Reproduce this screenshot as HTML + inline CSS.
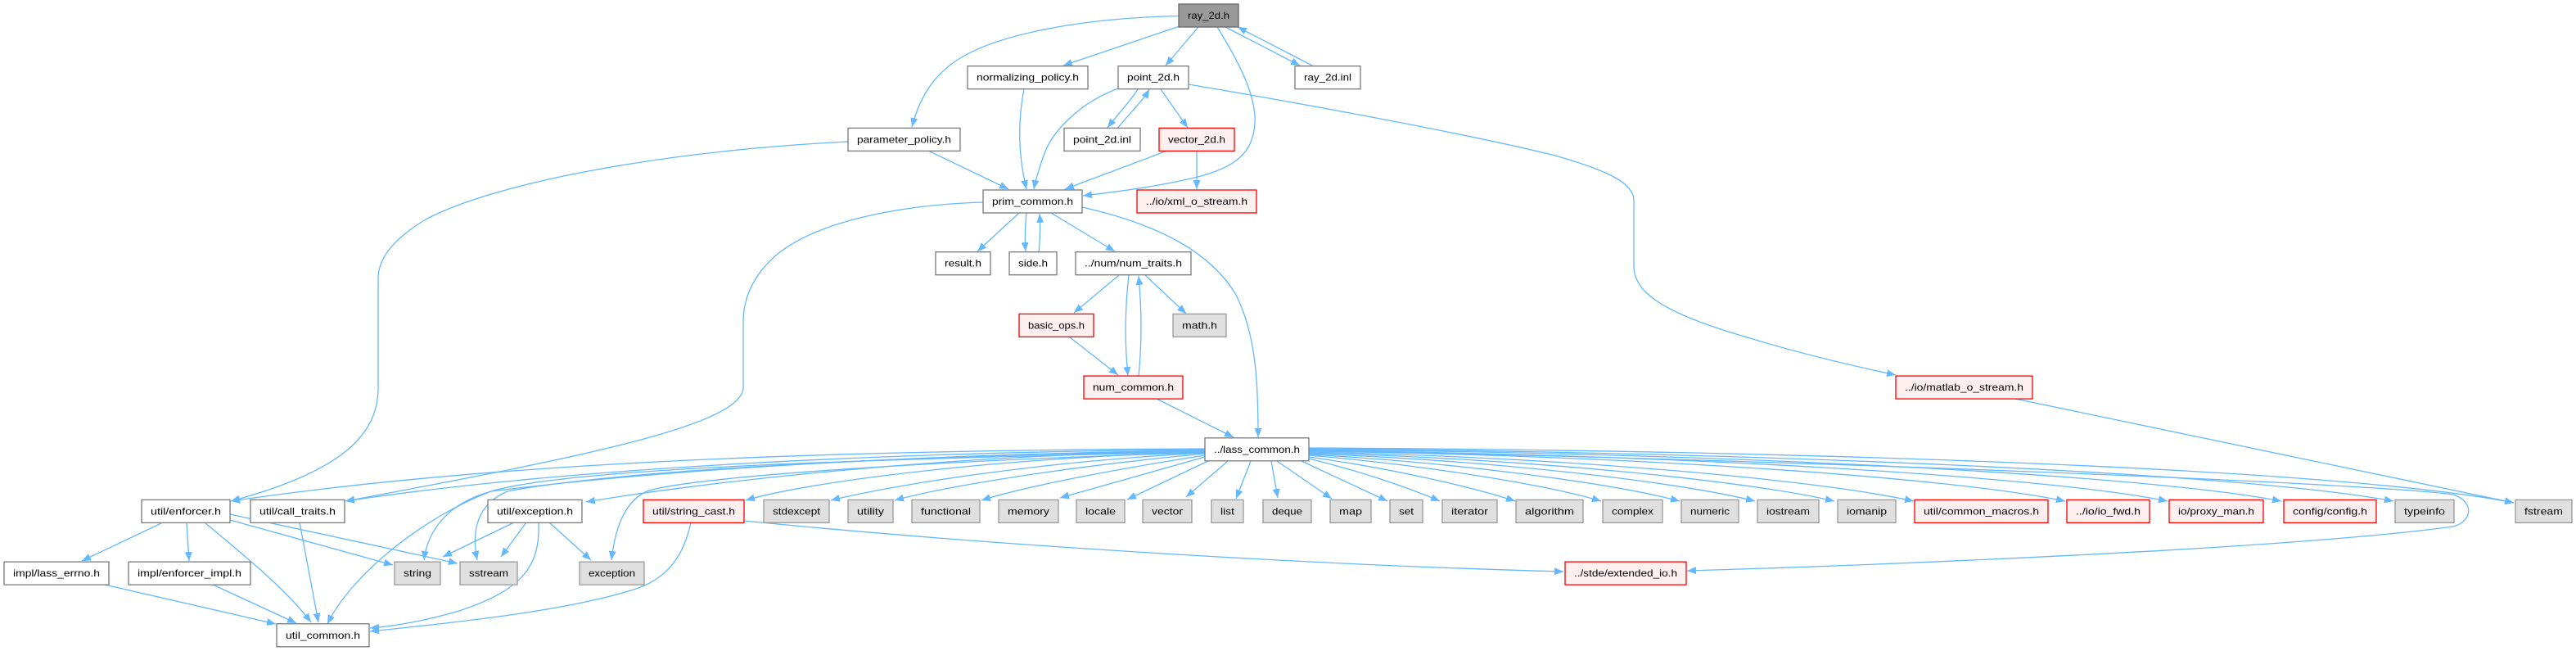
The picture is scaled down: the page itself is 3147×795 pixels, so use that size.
<!DOCTYPE html>
<html><head><meta charset="utf-8"><style>
html,body{margin:0;padding:0;background:#fff;}
svg{display:block;}
.e{fill:none;stroke:#63b8ff;stroke-width:1.3;}
.n{fill:#fff;stroke:#7a7a7a;stroke-width:1.3;}
.g{fill:#e0e0e0;stroke:#999;stroke-width:1.3;}
.r{fill:#fff0f0;stroke:#ff0000;stroke-width:1.3;}
.root{fill:#999;stroke:#666;stroke-width:1.3;}
text{font-family:"Liberation Sans",sans-serif;font-size:12px;fill:#000;text-anchor:middle;}
</style></head><body>
<svg width="3147" height="795" viewBox="0 0 3147 795" xmlns="http://www.w3.org/2000/svg">
<defs><marker id="a" markerWidth="12" markerHeight="9" refX="11" refY="4.5" orient="auto" markerUnits="userSpaceOnUse"><path d="M0,0 L11,4.5 L0,9 z" fill="#63b8ff"/></marker></defs>
<g class="edges">
<path class="e" marker-end="url(#a)" d="M1440,19.5 C1330,22 1210,40 1160,80 C1135,100 1122,125 1114,155"/>
<path class="e" marker-end="url(#a)" d="M1441,32 L1299,80"/>
<path class="e" marker-end="url(#a)" d="M1464,33 L1424,80"/>
<path class="e" marker-end="url(#a)" d="M1487,33 C1510,70 1535,115 1533,150 C1531,190 1505,208 1446,220 C1400,230 1350,236 1323,239"/>
<path class="e" marker-end="url(#a)" d="M1497,33 L1588,80"/>
<path class="e" marker-end="url(#a)" d="M1603,80 L1512,33"/>
<path class="e" marker-end="url(#a)" d="M1251,109 C1243,150 1244,190 1254,231"/>
<path class="e" marker-end="url(#a)" d="M1366,108 C1320,125 1285,160 1275,190 C1268,210 1265,220 1263,231"/>
<path class="e" marker-end="url(#a)" d="M1390,109 C1380,125 1365,140 1353,156"/>
<path class="e" marker-end="url(#a)" d="M1365,157 C1378,140 1395,125 1404,109"/>
<path class="e" marker-end="url(#a)" d="M1418,109 L1451,156"/>
<path class="e" marker-end="url(#a)" d="M1452,103 C1600,128 1800,165 1900,190 C1970,210 1996,225 1996,245 L1996,325 C1996,360 2040,385 2138,413 C2200,432 2260,446 2316,458"/>
<path class="e" marker-end="url(#a)" d="M1134,184 L1232,231"/>
<path class="e" marker-end="url(#a)" d="M1036,173 C800,185 600,225 520,268 C475,295 462,320 462,340 L462,473 C462,530 420,575 282,612"/>
<path class="e" marker-end="url(#a)" d="M1426,184 L1301,231"/>
<path class="e" marker-end="url(#a)" d="M1462,184 L1462,231"/>
<path class="e" marker-end="url(#a)" d="M1245,260 L1194,307"/>
<path class="e" marker-end="url(#a)" d="M1254,260 C1252,280 1252,295 1253,307"/>
<path class="e" marker-end="url(#a)" d="M1269,308 C1271,290 1271,275 1270,261"/>
<path class="e" marker-end="url(#a)" d="M1284,260 L1362,307"/>
<path class="e" marker-end="url(#a)" d="M1322,253 C1420,275 1480,310 1510,360 C1535,410 1537,470 1537,534"/>
<path class="e" marker-end="url(#a)" d="M1201,247 C1100,250 1000,270 950,310 C915,340 908,370 908,393 L908,473 C908,520 700,560 422,612"/>
<path class="e" marker-end="url(#a)" d="M1367,336 L1312,382"/>
<path class="e" marker-end="url(#a)" d="M1379,336 C1374,380 1374,420 1378,459"/>
<path class="e" marker-end="url(#a)" d="M1391,459 C1395,420 1395,380 1391,337"/>
<path class="e" marker-end="url(#a)" d="M1399,336 L1449,383"/>
<path class="e" marker-end="url(#a)" d="M1307,412 L1366,458"/>
<path class="e" marker-end="url(#a)" d="M1413,487 L1507,534"/>
<path class="e" marker-end="url(#a)" d="M2462,487 L3071,614"/>
<!-- lass_common to right -->
<path class="e" marker-end="url(#a)" d="M1553,563 L1561,608"/>
<path class="e" marker-end="url(#a)" d="M1560,563 L1627,609"/>
<path class="e" marker-end="url(#a)" d="M1590,563 L1695,612"/>
<path class="e" marker-end="url(#a)" d="M1599,560 C1660,575 1720,595 1759,612"/>
<path class="e" marker-end="url(#a)" d="M1599,558 C1700,572 1800,595 1851,612"/>
<path class="e" marker-end="url(#a)" d="M1599,556 C1740,568 1890,592 1956,612"/>
<path class="e" marker-end="url(#a)" d="M1599,555 C1780,565 1970,590 2052,612"/>
<path class="e" marker-end="url(#a)" d="M1599,554 C1820,562 2050,588 2144,612"/>
<path class="e" marker-end="url(#a)" d="M1599,553 C1860,560 2130,586 2241,612"/>
<path class="e" marker-end="url(#a)" d="M1599,552 C1900,558 2210,584 2338,612"/>
<path class="e" marker-end="url(#a)" d="M1599,551 C1980,556 2380,582 2523,612"/>
<path class="e" marker-end="url(#a)" d="M1599,550 C2030,555 2490,580 2648,612"/>
<path class="e" marker-end="url(#a)" d="M1599,549 C2080,553 2610,578 2787,612"/>
<path class="e" marker-end="url(#a)" d="M1599,548 C2130,552 2730,576 2924,612"/>
<path class="e" marker-end="url(#a)" d="M1599,547 C2200,550 2860,572 3071,614"/>
<path class="e" marker-end="url(#a)" d="M1599,550 C2200,562 2900,590 2997,604 C3022,612 3022,636 2997,643 C2800,670 2300,690 2061,697"/>
<!-- lass_common to left -->
<path class="e" marker-end="url(#a)" d="M1528,563 L1510,609"/>
<path class="e" marker-end="url(#a)" d="M1500,563 L1449,607"/>
<path class="e" marker-end="url(#a)" d="M1478,562 L1377,610"/>
<path class="e" marker-end="url(#a)" d="M1472,558 L1295,608"/>
<path class="e" marker-end="url(#a)" d="M1472,556 C1350,575 1250,595 1199,611"/>
<path class="e" marker-end="url(#a)" d="M1472,554 C1300,570 1150,595 1093,611"/>
<path class="e" marker-end="url(#a)" d="M1472,553 C1250,565 1080,595 1015,611"/>
<path class="e" marker-end="url(#a)" d="M1472,552 C1200,560 980,590 911,611"/>
<path class="e" marker-end="url(#a)" d="M1472,551 C1150,555 850,590 716,613"/>
<path class="e" marker-end="url(#a)" d="M1472,549 C1100,552 700,570 422,612"/>
<path class="e" marker-end="url(#a)" d="M1472,548 C1000,550 600,565 282,612"/>
<path class="e" marker-end="url(#a)" d="M1472,550 C1100,555 800,575 600,600 C545,615 522,650 518,684"/>
<path class="e" marker-end="url(#a)" d="M1472,551 C1100,556 750,575 620,600 C585,615 575,645 583,684"/>
<path class="e" marker-end="url(#a)" d="M1472,553 C1200,560 850,580 790,600 C765,612 752,640 747,684"/>
<path class="e" marker-end="url(#a)" d="M1472,552 C1100,560 700,570 600,600 C520,630 430,700 400,762"/>
<!-- lower -->
<path class="e" marker-end="url(#a)" d="M199,638 L100,685"/>
<path class="e" marker-end="url(#a)" d="M228,638 L231,685"/>
<path class="e" marker-end="url(#a)" d="M250,638 C300,680 350,720 380,760"/>
<path class="e" marker-end="url(#a)" d="M281,635 L480,690"/>
<path class="e" marker-end="url(#a)" d="M281,628 L559,688"/>
<path class="e" marker-end="url(#a)" d="M366,638 L389,760"/>
<path class="e" marker-end="url(#a)" d="M128,714 L337,762"/>
<path class="e" marker-end="url(#a)" d="M260,714 L362,761"/>
<path class="e" marker-end="url(#a)" d="M628,638 L541,680"/>
<path class="e" marker-end="url(#a)" d="M643,638 L612,680"/>
<path class="e" marker-end="url(#a)" d="M671,638 L722,684"/>
<path class="e" marker-end="url(#a)" d="M658,638 C660,690 640,720 561,746 C520,758 480,765 452,767"/>
<path class="e" marker-end="url(#a)" d="M844,638 C835,680 815,705 780,718 C700,745 560,760 452,771"/>
<path class="e" marker-end="url(#a)" d="M909,636 C1200,665 1600,690 1910,698"/>
</g>
<g class="nodes">
<rect class="root" x="1440" y="5" width="73" height="28"/><text x="1476.5" y="23" textLength="51" lengthAdjust="spacingAndGlyphs">ray_2d.h</text>
<rect class="n" x="1182" y="80.7" width="147" height="28"/><text x="1255.5" y="98.7" textLength="125" lengthAdjust="spacingAndGlyphs">normalizing_policy.h</text>
<rect class="n" x="1366" y="80.7" width="86" height="28"/><text x="1409" y="98.7" textLength="64" lengthAdjust="spacingAndGlyphs">point_2d.h</text>
<rect class="n" x="1582" y="80.7" width="80" height="28"/><text x="1622" y="98.7" textLength="58" lengthAdjust="spacingAndGlyphs">ray_2d.inl</text>
<rect class="n" x="1036" y="156.4" width="137" height="28"/><text x="1104.5" y="174.4" textLength="115" lengthAdjust="spacingAndGlyphs">parameter_policy.h</text>
<rect class="n" x="1300" y="156.4" width="93" height="28"/><text x="1346.5" y="174.4" textLength="71" lengthAdjust="spacingAndGlyphs">point_2d.inl</text>
<rect class="r" x="1416" y="156.4" width="92" height="28"/><text x="1462" y="174.4" textLength="70" lengthAdjust="spacingAndGlyphs">vector_2d.h</text>
<rect class="n" x="1201" y="232" width="121" height="28"/><text x="1261.5" y="250" textLength="99" lengthAdjust="spacingAndGlyphs">prim_common.h</text>
<rect class="r" x="1389" y="232" width="146" height="28"/><text x="1462" y="250" textLength="124" lengthAdjust="spacingAndGlyphs">../io/xml_o_stream.h</text>
<rect class="n" x="1143" y="307.7" width="67" height="28"/><text x="1176.5" y="325.7" textLength="45" lengthAdjust="spacingAndGlyphs">result.h</text>
<rect class="n" x="1233" y="307.7" width="58" height="28"/><text x="1262" y="325.7" textLength="36" lengthAdjust="spacingAndGlyphs">side.h</text>
<rect class="n" x="1314" y="307.7" width="141" height="28"/><text x="1384.5" y="325.7" textLength="119" lengthAdjust="spacingAndGlyphs">../num/num_traits.h</text>
<rect class="r" x="1245" y="383.4" width="91" height="28"/><text x="1290.5" y="401.4" textLength="69" lengthAdjust="spacingAndGlyphs">basic_ops.h</text>
<rect class="g" x="1433" y="383.4" width="65" height="28"/><text x="1465.5" y="401.4" textLength="43" lengthAdjust="spacingAndGlyphs">math.h</text>
<rect class="r" x="1324" y="459.1" width="121" height="28"/><text x="1384.5" y="477.1" textLength="99" lengthAdjust="spacingAndGlyphs">num_common.h</text>
<rect class="r" x="2316" y="459.1" width="167" height="28"/><text x="2399.5" y="477.1" textLength="145" lengthAdjust="spacingAndGlyphs">../io/matlab_o_stream.h</text>
<rect class="n" x="1472" y="534.8" width="127" height="28"/><text x="1535.5" y="552.8" textLength="105" lengthAdjust="spacingAndGlyphs">../lass_common.h</text>
<rect class="n" x="173" y="610.4" width="108" height="28"/><text x="227" y="628.4" textLength="86" lengthAdjust="spacingAndGlyphs">util/enforcer.h</text>
<rect class="n" x="306" y="610.4" width="115" height="28"/><text x="363.5" y="628.4" textLength="93" lengthAdjust="spacingAndGlyphs">util/call_traits.h</text>
<rect class="n" x="596" y="610.4" width="115" height="28"/><text x="653.5" y="628.4" textLength="93" lengthAdjust="spacingAndGlyphs">util/exception.h</text>
<rect class="r" x="786" y="610.4" width="123" height="28"/><text x="847.5" y="628.4" textLength="101" lengthAdjust="spacingAndGlyphs">util/string_cast.h</text>
<rect class="g" x="933" y="610.4" width="80" height="28"/><text x="973" y="628.4" textLength="58" lengthAdjust="spacingAndGlyphs">stdexcept</text>
<rect class="g" x="1036" y="610.4" width="55" height="28"/><text x="1063.5" y="628.4" textLength="33" lengthAdjust="spacingAndGlyphs">utility</text>
<rect class="g" x="1114" y="610.4" width="83" height="28"/><text x="1155.5" y="628.4" textLength="61" lengthAdjust="spacingAndGlyphs">functional</text>
<rect class="g" x="1220" y="610.4" width="73" height="28"/><text x="1256.5" y="628.4" textLength="51" lengthAdjust="spacingAndGlyphs">memory</text>
<rect class="g" x="1315" y="610.4" width="59" height="28"/><text x="1344.5" y="628.4" textLength="37" lengthAdjust="spacingAndGlyphs">locale</text>
<rect class="g" x="1396" y="610.4" width="60" height="28"/><text x="1426" y="628.4" textLength="38" lengthAdjust="spacingAndGlyphs">vector</text>
<rect class="g" x="1480" y="610.4" width="39" height="28"/><text x="1499.5" y="628.4" textLength="17" lengthAdjust="spacingAndGlyphs">list</text>
<rect class="g" x="1543" y="610.4" width="59" height="28"/><text x="1572.5" y="628.4" textLength="37" lengthAdjust="spacingAndGlyphs">deque</text>
<rect class="g" x="1625" y="610.4" width="50" height="28"/><text x="1650" y="628.4" textLength="28" lengthAdjust="spacingAndGlyphs">map</text>
<rect class="g" x="1698" y="610.4" width="40" height="28"/><text x="1718" y="628.4" textLength="18" lengthAdjust="spacingAndGlyphs">set</text>
<rect class="g" x="1762" y="610.4" width="67" height="28"/><text x="1795.5" y="628.4" textLength="45" lengthAdjust="spacingAndGlyphs">iterator</text>
<rect class="g" x="1852" y="610.4" width="82" height="28"/><text x="1893" y="628.4" textLength="60" lengthAdjust="spacingAndGlyphs">algorithm</text>
<rect class="g" x="1958" y="610.4" width="73" height="28"/><text x="1994.5" y="628.4" textLength="51" lengthAdjust="spacingAndGlyphs">complex</text>
<rect class="g" x="2054" y="610.4" width="70" height="28"/><text x="2089" y="628.4" textLength="48" lengthAdjust="spacingAndGlyphs">numeric</text>
<rect class="g" x="2147" y="610.4" width="75" height="28"/><text x="2184.5" y="628.4" textLength="53" lengthAdjust="spacingAndGlyphs">iostream</text>
<rect class="g" x="2245" y="610.4" width="71" height="28"/><text x="2280.5" y="628.4" textLength="49" lengthAdjust="spacingAndGlyphs">iomanip</text>
<rect class="r" x="2339" y="610.4" width="163" height="28"/><text x="2420.5" y="628.4" textLength="141" lengthAdjust="spacingAndGlyphs">util/common_macros.h</text>
<rect class="r" x="2525" y="610.4" width="101" height="28"/><text x="2575.5" y="628.4" textLength="79" lengthAdjust="spacingAndGlyphs">../io/io_fwd.h</text>
<rect class="r" x="2650" y="610.4" width="115" height="28"/><text x="2707.5" y="628.4" textLength="93" lengthAdjust="spacingAndGlyphs">io/proxy_man.h</text>
<rect class="r" x="2790" y="610.4" width="113" height="28"/><text x="2846.5" y="628.4" textLength="91" lengthAdjust="spacingAndGlyphs">config/config.h</text>
<rect class="g" x="2926" y="610.4" width="72" height="28"/><text x="2962" y="628.4" textLength="50" lengthAdjust="spacingAndGlyphs">typeinfo</text>
<rect class="g" x="3073" y="610.4" width="69" height="28"/><text x="3107.5" y="628.4" textLength="47" lengthAdjust="spacingAndGlyphs">fstream</text>
<rect class="n" x="5" y="686.1" width="128" height="28"/><text x="69" y="704.1" textLength="106" lengthAdjust="spacingAndGlyphs">impl/lass_errno.h</text>
<rect class="n" x="157" y="686.1" width="149" height="28"/><text x="231.5" y="704.1" textLength="127" lengthAdjust="spacingAndGlyphs">impl/enforcer_impl.h</text>
<rect class="g" x="482" y="686.1" width="56" height="28"/><text x="510" y="704.1" textLength="34" lengthAdjust="spacingAndGlyphs">string</text>
<rect class="g" x="562" y="686.1" width="70" height="28"/><text x="597" y="704.1" textLength="48" lengthAdjust="spacingAndGlyphs">sstream</text>
<rect class="g" x="708" y="686.1" width="79" height="28"/><text x="747.5" y="704.1" textLength="57" lengthAdjust="spacingAndGlyphs">exception</text>
<rect class="r" x="1912" y="686.1" width="148" height="28"/><text x="1986" y="704.1" textLength="126" lengthAdjust="spacingAndGlyphs">../stde/extended_io.h</text>
<rect class="n" x="338" y="761.8" width="113" height="28"/><text x="394.5" y="779.8" textLength="91" lengthAdjust="spacingAndGlyphs">util_common.h</text>
</g>
</svg>
</body></html>
